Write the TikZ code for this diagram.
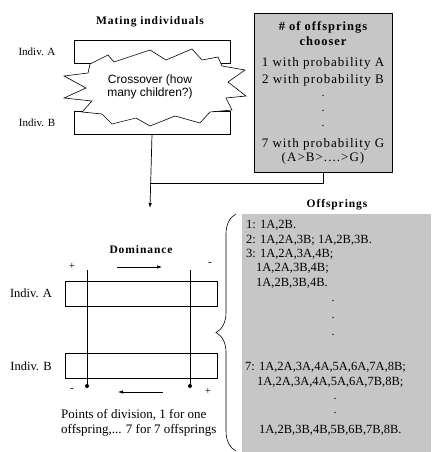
\documentclass[tikz,border=0pt]{standalone}
\usepackage{fontspec}
\setmainfont{Liberation Serif}
\setsansfont{Liberation Sans}
\newfontfamily\spacedfont[LetterSpace=8]{Liberation Serif}
\usetikzlibrary{positioning}
\usetikzlibrary{calc}
\usetikzlibrary{arrows.meta}
\usetikzlibrary{decorations.pathreplacing}
\definecolor{scan}{RGB}{198,198,198}

\begin{document}
\begin{tikzpicture}[
    x=1pt, y=-1pt,
    chrom/.style={draw, line width=0.7pt, minimum height=23pt, inner sep=0pt},
    lbl/.style={font=\fontsize{11}{13}\selectfont},
    ttl/.style={font=\fontsize{11.5}{13}\spacedfont\bfseries},
    txt/.style={font=\fontsize{12.5}{14}\selectfont, inner sep=0pt, anchor=west},
    prob/.style={font=\fontsize{13}{14}\spacedfont, inner sep=0pt},
    dot/.style={font=\fontsize{12}{14}\selectfont, inner sep=0pt},
    >={Latex[length=5pt, width=3.5pt]}
]
    \useasboundingbox (0,0) rectangle (431,452);

    % mating individuals
    \node[ttl] (mating) at (150,22) {Mating individuals};
    \node[chrom, minimum width=156pt] (ia) at (152,51.5) {};
    \node[chrom, minimum width=156pt] (ib) at (152,122.5) {};
    \node[lbl] at (37,52) {Indiv. A};
    \node[lbl] at (37,123) {Indiv. B};

    \draw[fill=white, line width=0.6pt]
        (90,64) -- (108,55) -- (114,62) -- (150,50) -- (166,60) -- (192,49)
        -- (202,60) -- (218,57) -- (222,66) -- (245,70) -- (228,82)
        -- (246,96) -- (226,98) -- (232,110) -- (210,112) -- (200,123)
        -- (175,116) -- (150,126) -- (136,118) -- (112,124) -- (102,114)
        -- (82,112) -- (92,101) -- (64,98) -- (86,88) -- (64,76)
        -- (88,73) -- cycle;
    \node[font=\sffamily\fontsize{12}{13.5}\selectfont, align=center] (cross) at (150,87)
        {Crossover (how\\many children?)};

    % chooser
    \node[draw, line width=0.7pt, fill=scan, minimum width=138pt, minimum height=159pt,
          inner sep=0pt] (chooser) at (323,92.5) {};
    \node[font=\fontsize{12.5}{14}\spacedfont\bfseries] at (323,27) {\# of offsprings};
    \node[font=\fontsize{12.5}{14}\spacedfont\bfseries] at (323,41) {chooser};
    \node[prob] at (323,63) {1 with probability A};
    \node[prob] at (323,80) {2 with probability B};
    \foreach \y in {96,111,126} {
        \node[dot] at (323,\y) {.};
    }
    \node[prob] at (323,144) {7 with probability G};
    \node[prob] at (323,158) {(A>B>....>G)};

    \coordinate (join) at (150,183);
    \coordinate (tip) at (150,208);
    \draw[line width=0.7pt, ->] (ib.south) -- (tip);
    \draw[line width=0.7pt] (chooser.south) |- (join);

    % offsprings
    \node[ttl] (offs) at (337,205) {Offsprings};
    \fill[scan] (242,214) rectangle (431,452);
    \draw[line width=0.6pt, decorate, decoration={brace, amplitude=20pt}]
        (236,451) -- (236,214);
    \node[txt] at (246,225) {1: 1A,2B.};
    \node[txt] at (246,240) {2: 1A,2A,3B; 1A,2B,3B.};
    \node[txt] at (246,254) {3: 1A,2A,3A,4B;};
    \node[txt] at (256,268) {1A,2A,3B,4B;};
    \node[txt] at (256,283) {1A,2B,3B,4B.};
    \foreach \y in {301,318,335} {
        \node[dot] at (333,\y) {.};
    }
    \node[txt] at (245,367) {7: 1A,2A,3A,4A,5A,6A,7A,8B;};
    \node[txt] at (257,382) {1A,2A,3A,4A,5A,6A,7B,8B;};
    \foreach \y in {399,413} {
        \node[dot] at (335,\y) {.};
    }
    \node[txt] at (259,430) {1A,2B,3B,4B,5B,6B,7B,8B.};

    % dominance
    \node[ttl] (dom) at (141,250) {Dominance};
    \node[lbl] at (72,266) {+};
    \node[lbl] at (210,264) {-};
    \draw[line width=0.6pt, ->] (117,267) -- (162,267);
    \node[chrom, minimum width=152pt, minimum height=25pt] (da) at (141,293.5) {};
    \node[chrom, minimum width=152pt, minimum height=25pt] (db) at (141,365.5) {};
    \node[font=\fontsize{12.5}{14}\selectfont] at (31,293) {Indiv. A};
    \node[font=\fontsize{12.5}{14}\selectfont] at (31,366) {Indiv. B};
    \coordinate (cut1) at (87,386);
    \coordinate (cut2) at (190,386);
    \draw[line width=0.6pt] (87,270) -- (cut1);
    \draw[line width=0.6pt] (190,270) -- (cut2);
    \fill (cut1) circle (2pt);
    \fill (cut2) circle (2pt);
    \node[lbl] at (72,390) {-};
    \node[lbl] at (208,391) {+};
    \draw[line width=0.6pt, ->] (163,392) -- (118,392);
    \node[font=\fontsize{13}{15.5}\selectfont, align=left, anchor=west, inner sep=0pt]
        (division) at (61,423) {Points of division, 1 for one\\offspring,... 7 for 7 offsprings};
\end{tikzpicture}
\end{document}
